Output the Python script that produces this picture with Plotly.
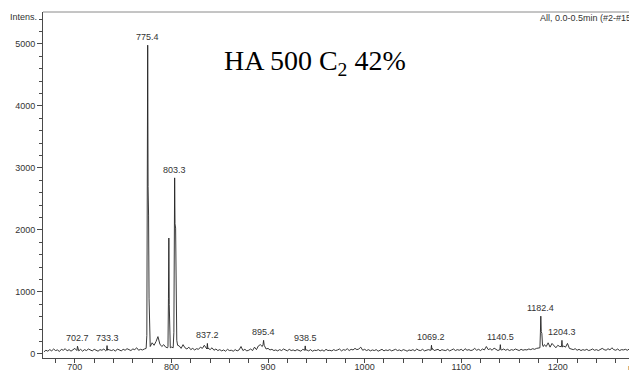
import plotly.graph_objects as go

# ---------------- data ----------------
noise_start_mz = 668
noise_step_mz = 2
noise_int = [
    35, 60, 45, 70, 50, 80, 55, 65, 40, 75,
    60, 85, 50, 70, 45, 65, 90, 55, 50, 75,
    45, 70, 55, 80, 60, 50, 75, 65, 45, 70,
    60, 80, 50, 75, 65, 55, 70, 45, 80, 60,
    50, 75, 60, 85, 65, 55, 80, 70, 100, 60,
    75, 65, 80, 100, 100, 120, 180, 140, 200, 280,
    160, 120, 150, 110, 100, 150, 110, 100, 100, 100,
    130, 90, 150, 100, 80, 110, 70, 90, 65, 85,
    75, 110, 90, 140, 80, 95, 70, 100, 60, 80,
    55, 70, 50, 65, 45, 75, 55, 60, 45, 70,
    50, 65, 120, 55, 75, 50, 60, 80, 55, 110,
    70, 130, 150, 120, 100, 80, 90, 65, 75, 55,
    65, 50, 70, 55, 80, 60, 50, 75, 55, 65,
    50, 70, 60, 45, 75, 55, 65, 50, 70, 45,
    60, 55, 70, 50, 65, 45, 75, 55, 60, 50,
    70, 55, 65, 80, 50, 70, 60, 85, 55, 75,
    65, 90, 70, 80, 110, 60, 75, 55, 70, 50,
    65, 55, 70, 45, 60, 75, 50, 65, 55, 70,
    50, 60, 75, 55, 65, 50, 70, 60, 45, 65,
    55, 70, 50, 80, 60, 55, 75, 50, 65, 70,
    60, 90, 55, 65, 75, 50, 70, 60, 55, 75,
    50, 65, 80, 55, 70, 60, 75, 50, 85, 60,
    70, 55, 65, 90, 60, 75, 55, 80, 65, 120,
    70, 85, 60, 95, 75, 55, 110, 65, 80, 60,
    75, 55, 70, 60, 80, 65, 55, 75, 60, 70,
    65, 80, 70, 85, 75, 90, 100, 100, 100, 150,
    120, 180, 110, 170, 130, 100, 140, 120, 120, 130,
    110, 170, 90, 80, 70, 85, 60, 75, 55, 70,
    60, 75, 55, 65, 80, 60, 70, 55, 75, 90,
    70, 60, 85, 65, 100, 70, 60, 80, 55, 70,
    65, 75, 60, 80, 55, 70, 60,
]

# peak clusters: m/z and intensity points
peak_groups_mz = [
    [702.2, 702.7, 703.2],
    [732.8, 733.3, 733.8],
    [773.8, 774.5, 775.0, 775.4, 775.8, 776.3, 776.8, 777.4],
    [796.4, 796.9, 797.3, 797.7, 798.2, 798.8],
    [801.8, 802.5, 802.9, 803.3, 803.7, 804.3, 804.8, 805.5, 806.4],
    [836.7, 837.2, 837.7],
    [894.8, 895.4, 896.0],
    [938.0, 938.5, 939.0],
    [1068.7, 1069.2, 1069.7],
    [1140.0, 1140.5, 1141.0],
    [1181.5, 1182.0, 1182.4, 1182.9, 1183.5, 1184.2, 1185.0],
    [1203.8, 1204.3, 1204.8],
]
peak_groups_int = [
    [60, 125, 55],
    [60, 135, 60],
    [90, 300, 2600, 4980, 2700, 2240, 900, 250],
    [120, 900, 1870, 800, 180, 100],
    [100, 350, 1800, 2840, 2100, 2030, 700, 220, 140],
    [80, 170, 80],
    [150, 220, 140],
    [60, 130, 60],
    [60, 140, 70],
    [70, 150, 70],
    [100, 350, 610, 360, 330, 140, 120],
    [120, 220, 110],
]

label_mz = [702.7, 733.3, 775.4, 803.3, 837.2, 895.4, 938.5, 1069.2, 1140.5, 1182.4, 1204.3]
label_int = [125, 135, 4980, 2840, 170, 220, 130, 140, 150, 610, 220]
label_text = ["702.7", "733.3", "775.4", "803.3", "837.2", "895.4", "938.5",
              "1069.2", "1140.5", "1182.4", "1204.3"]

x_tick_vals = [700, 800, 900, 1000, 1100, 1200]
y_tick_vals = [0, 1000, 2000, 3000, 4000, 5000]

# ---------------- assemble spectrum ----------------
windows = [(min(g), max(g)) for g in peak_groups_mz]
pts = []
for i, v in enumerate(noise_int):
    mz = noise_start_mz + noise_step_mz * i
    if any(lo - 0.01 <= mz <= hi + 0.01 for lo, hi in windows):
        continue
    pts.append((mz, v))
for gm, gi in zip(peak_groups_mz, peak_groups_int):
    pts.extend(zip(gm, gi))
pts.sort()
spec_mz = [p[0] for p in pts]
spec_int = [p[1] for p in pts]

AX = "#4a4a4a"
TXT = "#333333"
SANS = "Liberation Sans, Arial, sans-serif"

fig = go.Figure()
fig.add_trace(go.Scatter(x=spec_mz, y=spec_int, mode="lines",
                         line=dict(color="#222222", width=0.9),
                         hoverinfo="skip"))

annotations = []
for mz, h, t in zip(label_mz, label_int, label_text):
    annotations.append(dict(x=mz, y=h, xref="x", yref="y", text=t, showarrow=False,
                            yanchor="bottom", xanchor="center", yshift=1,
                            font=dict(family=SANS, size=9, color=TXT)))

annotations += [
    dict(x=0.458, y=0.855, xref="paper", yref="paper",
         text="HA 500 C<sub>2</sub> 42%", showarrow=False,
         xanchor="center", yanchor="middle",
         font=dict(family="Liberation Serif, Times New Roman, serif", size=28, color="#000000")),
    dict(x=0, y=5430, xref="paper", yref="y", text="Intens.", showarrow=False,
         xanchor="right", yanchor="middle", xshift=-4,
         font=dict(family=SANS, size=9, color=TXT)),
    dict(x=(538 - 43) / 594, y=1, xref="paper", yref="paper", text="All, 0.0-0.5min (#2-#15)",
         showarrow=False, xanchor="left", yanchor="top", yshift=1,
         font=dict(family=SANS, size=9, color=TXT)),
    dict(x=1, y=0, xref="paper", yref="paper", text="m/z",
         showarrow=False, xanchor="right", yanchor="top", xshift=8, yshift=-3,
         font=dict(family=SANS, size=9, color=TXT)),
]

# the page body adds an 8 px offset, so the figure is 8 px smaller on each axis
fig.update_layout(
    width=629, height=362,
    margin=dict(l=35, r=0, t=4, b=12, autoexpand=False),
    plot_bgcolor="white", paper_bgcolor="white",
    showlegend=False,
    annotations=annotations,
    shapes=[dict(type="line", xref="paper", yref="paper", x0=0, x1=1, y0=1, y1=1,
                 line=dict(color="#8a8a8a", width=1))],
    xaxis=dict(range=[667, 1282], showgrid=False, zeroline=False, automargin=False,
               showline=True, linecolor=AX, linewidth=1,
               tickvals=x_tick_vals, ticks="", ticklen=0,
               tickfont=dict(family=SANS, size=9, color=TXT),
               minor=dict(dtick=20, tick0=0, ticks="outside", ticklen=4, tickcolor=AX, showgrid=False)),
    yaxis=dict(range=[-65, 5515], showgrid=False, zeroline=False, automargin=False,
               showline=True, linecolor=AX, linewidth=1,
               tickvals=y_tick_vals, ticks="outside", ticklen=5, tickcolor=AX,
               tickfont=dict(family=SANS, size=9, color=TXT),
               minor=dict(dtick=200, tick0=0, ticks="outside", ticklen=3, tickcolor=AX, showgrid=False)),
)

fig.write_html("out.html")
